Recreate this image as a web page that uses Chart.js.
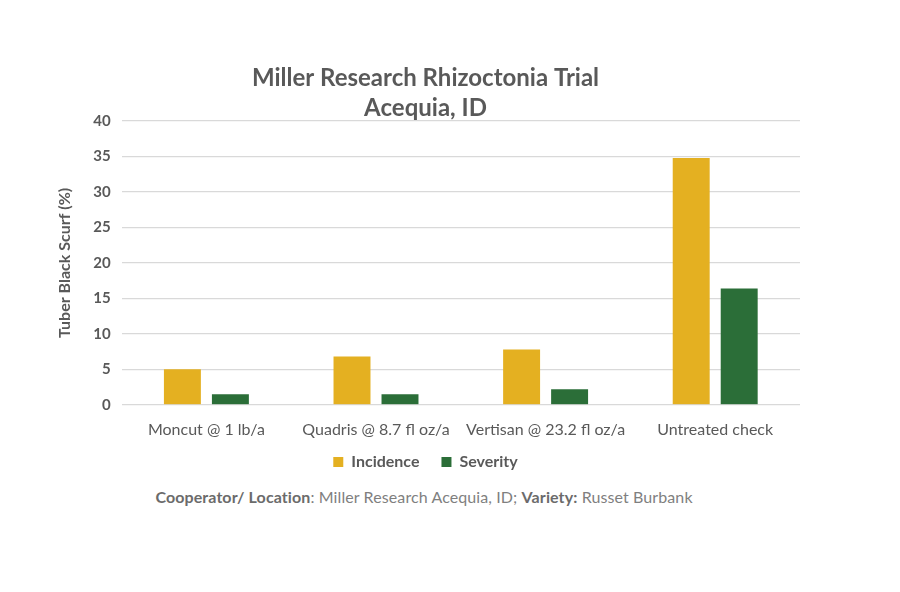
<!DOCTYPE html>
<html>
<head>
<meta charset="utf-8">
<script src="https://cdn.jsdelivr.net/npm/chart.js@4.4.1/dist/chart.umd.min.js"></script>
<style>
  html, body { margin: 0; padding: 0; background: #ffffff; }
  #wrap { position: relative; width: 900px; height: 592px; }
  #box { position: absolute; left: 0; top: 0; width: 848px; height: 485px; }
  #caption { position: absolute; left: 0; top: 487px; width: 848px; text-align: center;
    font-family: Lato, "Open Sans", sans-serif; font-size: 16px; color: #7f7f7f; letter-spacing: 0.1px; }
  #caption b { color: #6b6b6b; font-weight: 700; }
</style>
</head>
<body>
<div id="wrap">
  <div id="box"><canvas id="c"></canvas></div>
  <div id="caption"><b>Cooperator/ Location</b>: Miller Research Acequia, ID; <b>Variety:</b> Russet Burbank</div>
</div>
<script>
const titleLines = ["Miller Research Rhizoctonia Trial", "Acequia, ID"];
const categories = ["Moncut @ 1 lb/a", "Quadris @ 8.7 fl oz/a", "Vertisan @ 23.2 fl oz/a", "Untreated check"];
const incidence = [5.0, 6.8, 7.8, 34.8];
const severity = [1.5, 1.5, 2.2, 16.4];
const yAxisTitle = "Tuber Black Scurf (%)";
const seriesNames = ["Incidence", "Severity"];

const FONT = "Lato, 'Open Sans', sans-serif";
const GRAY = "#595959";

const unclipXLabels = {
  id: "unclipXLabels",
  afterLayout(chart) { chart.scales.x.bottom += 20; }
};

new Chart(document.getElementById("c"), {
  type: "bar",
  data: {
    labels: categories,
    datasets: [
      { label: seriesNames[0], data: incidence, backgroundColor: "#E4B021",
        categoryPercentage: 0.566, barPercentage: 0.77 },
      { label: seriesNames[1], data: severity, backgroundColor: "#2B6E38",
        categoryPercentage: 0.566, barPercentage: 0.77 }
    ]
  },
  plugins: [unclipXLabels],
  options: {
    responsive: true,
    maintainAspectRatio: false,
    animation: false,
    layout: { padding: { left: 51, right: 48, top: 63, bottom: 5 } },
    plugins: {
      title: {
        display: true, text: titleLines, color: GRAY,
        font: { family: FONT, size: 24, weight: "bold", lineHeight: 1.25 },
        padding: { top: 0, bottom: -2 }
      },
      legend: {
        position: "bottom",
        labels: {
          color: GRAY, boxWidth: 10, boxHeight: 10, padding: 22,
          font: { family: FONT, size: 16, weight: "bold" }
        }
      },
      tooltip: { enabled: false }
    },
    scales: {
      x: {
        grid: { display: false },
        border: { display: false },
        ticks: { color: GRAY, font: { family: FONT, size: 16 }, padding: 7, maxRotation: 0 },
        afterFit: (s) => { s.height -= 14; }
      },
      y: {
        min: 0, max: 40,
        ticks: { stepSize: 5, color: GRAY, font: { family: FONT, size: 15, weight: "bold" }, padding: 11 },
        grid: { color: "#d9d9d9", lineWidth: 1.3, drawTicks: false },
        border: { display: false },
        title: { display: true, text: yAxisTitle, color: GRAY,
          font: { family: FONT, size: 16, weight: "bold" }, padding: { bottom: 8 } }
      }
    }
  }
});
</script>
</body>
</html>
